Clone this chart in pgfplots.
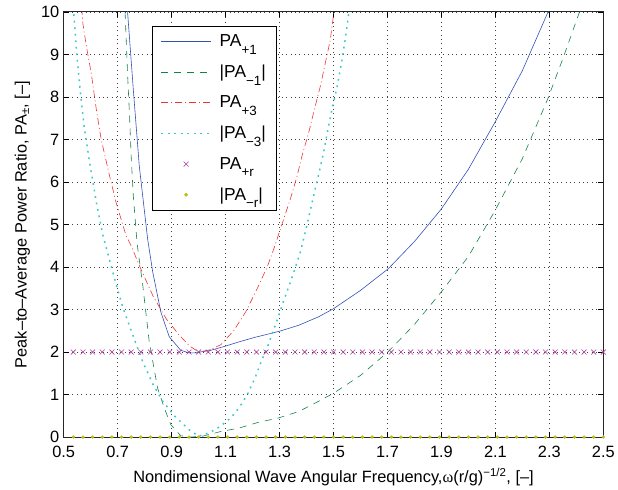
\documentclass[border=0pt]{standalone}
\usepackage{fontspec}
\setmainfont{Liberation Sans}
\newfontfamily\symf{Liberation Serif}
\usepackage{pgfplots}
\pgfplotsset{compat=1.18}
\definecolor{cB}{RGB}{50,80,180}
\definecolor{cG}{RGB}{20,130,70}
\definecolor{cR}{RGB}{240,50,50}
\definecolor{cC}{RGB}{60,200,200}
\definecolor{cM}{RGB}{170,60,160}
\definecolor{cY}{RGB}{190,190,20}
\newcommand{\sub}[1]{\raisebox{-7.5bp}{\fontsize{13.5}{14}\selectfont #1}}
\begin{document}
\begin{tikzpicture}
\begin{axis}[
  scale only axis, width=542bp, height=427bp,
  xmin=0.5, xmax=2.5, ymin=0, ymax=10,
  xtick={0.5,0.7,...,2.5}, ytick={0,1,...,10},
  xticklabel style={/pgf/number format/fixed, /pgf/number format/precision=1, /pgf/number format/fixed zerofill, yshift=-6bp},
  yticklabel style={xshift=-1bp},
  /pgf/number format/assume math mode=true,
  tick label style={font=\fontsize{16.5}{18}\selectfont},
  tick align=inside, major tick length=5bp,
  every tick/.style={black, line width=0.6pt},
  axis line style={black!85, line width=0.9pt},
  grid=major, major grid style={black!75, line width=0.6pt, dash pattern=on 0.8pt off 3.6pt},
  every axis x label/.style={at={(axis description cs:0.5,-0.0935)}, anchor=center, font=\fontsize{16.5}{18}\selectfont},
  every axis y label/.style={at={(axis description cs:-0.0766,0.5)}, anchor=center, rotate=90, font=\fontsize{16.5}{18}\selectfont},
  xlabel={Nondimensional Wave Angular Frequency,{\symf ω}(r/g)\textsuperscript{−1/2}, [–]},
  ylabel={Peak–to–Average Power Ratio, PA\textsubscript{±}, [–]},
  legend image code/.code={\draw[mark repeat=2,mark phase=2,#1] plot coordinates {(0bp,0bp) (25bp,0bp) (50bp,0bp)};},
  legend style={at={(axis description cs:0.164,0.967)}, anchor=north west, draw=black, line width=0.6pt, fill=white,
    font=\fontsize{17.5}{19}\selectfont, row sep=13bp, inner xsep=8bp, inner ysep=6.5bp,
    /tikz/every odd column/.append style={column sep=6bp}},
  legend cell align=left,
]
\addplot[cB, line width=0.6pt] coordinates {
(0.733,10.3)(0.737,9.97)(0.758,8.17)(0.780,6.38)(0.811,4.66)(0.830,3.88)(0.860,2.94)(0.891,2.36)(0.934,2.04)(0.965,1.98)(0.99,1.98)(1.014,2.01)(1.039,2.03)(1.1,2.14)(1.15,2.24)(1.211,2.35)(1.25,2.41)(1.3,2.49)(1.371,2.63)(1.445,2.83)(1.5,3.02)(1.6,3.45)(1.703,3.96)(1.8,4.6)(1.899,5.36)(2.0,6.3)(2.098,7.4)(2.2,8.62)(2.293,9.97)(2.3,10.1)};
\addlegendentry{PA\sub{+1}}
\addplot[cG, line width=0.6pt, dash pattern=on 7bp off 6bp] coordinates {
(0.726,10.3)(0.728,9.9)(0.737,8.5)(0.744,7.55)(0.750,6.6)(0.758,5.67)(0.772,4.55)(0.793,3.57)(0.817,2.24)(0.848,1.15)(0.873,0.68)(0.897,0.29)(0.934,0.03)(0.97,0.0)(1.014,0.02)(1.082,0.13)(1.149,0.21)(1.223,0.35)(1.291,0.44)(1.371,0.60)(1.438,0.82)(1.5,1.03)(1.6,1.45)(1.703,2.01)(1.8,2.65)(1.899,3.41)(2.0,4.25)(2.098,5.32)(2.2,6.55)(2.293,7.94)(2.35,8.9)(2.41,9.97)(2.415,10.1)};
\addlegendentry{|PA\sub{−1}|}
\addplot[cR, line width=0.6pt, dash pattern=on 7bp off 3bp on 1bp off 3bp] coordinates {
(0.567,10.1)(0.571,9.73)(0.584,9.19)(0.602,8.56)(0.621,7.7)(0.639,7.0)(0.670,6.14)(0.694,5.52)(0.731,4.74)(0.750,4.50)(0.780,4.04)(0.830,3.33)(0.879,2.79)(0.928,2.40)(0.965,2.15)(1.0,2.0)(1.04,2.05)(1.082,2.17)(1.131,2.51)(1.174,2.94)(1.217,3.49)(1.254,4.0)(1.279,4.43)(1.34,5.6)(1.365,6.14)(1.383,6.61)(1.408,7.16)(1.426,7.63)(1.451,8.25)(1.488,9.34)(1.5,9.93)(1.503,10.1)};
\addlegendentry{PA\sub{+3}}
\addplot[cC, line width=1.5pt, dash pattern=on 1.8pt off 4.8pt] coordinates {
(0.535,10.1)(0.537,9.97)(0.547,9.11)(0.562,8.09)(0.577,7.24)(0.598,6.38)(0.621,5.52)(0.645,4.75)(0.676,4.02)(0.694,3.6)(0.719,3.05)(0.756,2.40)(0.793,1.77)(0.830,1.25)(0.866,0.85)(0.910,0.5)(0.965,0.17)(1.0,0.02)(1.04,0.1)(1.08,0.25)(1.119,0.45)(1.149,0.68)(1.180,0.99)(1.211,1.42)(1.229,1.73)(1.260,2.20)(1.291,2.75)(1.315,3.2)(1.346,3.75)(1.377,4.35)(1.389,4.66)(1.408,5.17)(1.426,5.67)(1.445,6.18)(1.463,6.69)(1.475,7.1)(1.494,7.70)(1.512,8.2)(1.531,8.85)(1.543,9.34)(1.555,9.89)(1.558,10.1)};
\addlegendentry{|PA\sub{−3}|}
\addplot[cM, only marks, mark=x, mark size=3.5bp, line width=0.6pt] coordinates {
(0.5357,2)(0.5714,2)(0.6071,2)(0.6429,2)(0.6786,2)(0.7143,2)(0.7500,2)(0.7857,2)(0.8214,2)(0.8571,2)(0.8929,2)(0.9286,2)(0.9643,2)(1.0000,2)(1.0357,2)(1.0714,2)(1.1071,2)(1.1429,2)(1.1786,2)(1.2143,2)(1.2500,2)(1.2857,2)(1.3214,2)(1.3571,2)(1.3929,2)(1.4286,2)(1.4643,2)(1.5000,2)(1.5357,2)(1.5714,2)(1.6071,2)(1.6429,2)(1.6786,2)(1.7143,2)(1.7500,2)(1.7857,2)(1.8214,2)(1.8571,2)(1.8929,2)(1.9286,2)(1.9643,2)(2.0000,2)(2.0357,2)(2.0714,2)(2.1071,2)(2.1429,2)(2.1786,2)(2.2143,2)(2.2500,2)(2.2857,2)(2.3214,2)(2.3571,2)(2.3929,2)(2.4286,2)(2.4643,2)(2.5000,2)};
\addlegendentry{PA\sub{+r}}
\addplot[cY, only marks, mark=*, mark size=1.5bp] coordinates {
(0.5357,0)(0.5714,0)(0.6071,0)(0.6429,0)(0.6786,0)(0.7143,0)(0.7500,0)(0.7857,0)(0.8214,0)(0.8571,0)(0.8929,0)(0.9286,0)(0.9643,0)(1.0000,0)(1.0357,0)(1.0714,0)(1.1071,0)(1.1429,0)(1.1786,0)(1.2143,0)(1.2500,0)(1.2857,0)(1.3214,0)(1.3571,0)(1.3929,0)(1.4286,0)(1.4643,0)(1.5000,0)(1.5357,0)(1.5714,0)(1.6071,0)(1.6429,0)(1.6786,0)(1.7143,0)(1.7500,0)(1.7857,0)(1.8214,0)(1.8571,0)(1.8929,0)(1.9286,0)(1.9643,0)(2.0000,0)(2.0357,0)(2.0714,0)(2.1071,0)(2.1429,0)(2.1786,0)(2.2143,0)(2.2500,0)(2.2857,0)(2.3214,0)(2.3571,0)(2.3929,0)(2.4286,0)(2.4643,0)(2.5000,0)};
\addlegendentry{|PA\sub{−r}|}
\end{axis}
\path (current axis.south west) ++(-64bp,-52bp) coordinate (bbA);
\path (current axis.north east) ++(12bp,12bp) coordinate (bbB);
\path (bbA) rectangle (bbB);
\end{tikzpicture}
\end{document}
